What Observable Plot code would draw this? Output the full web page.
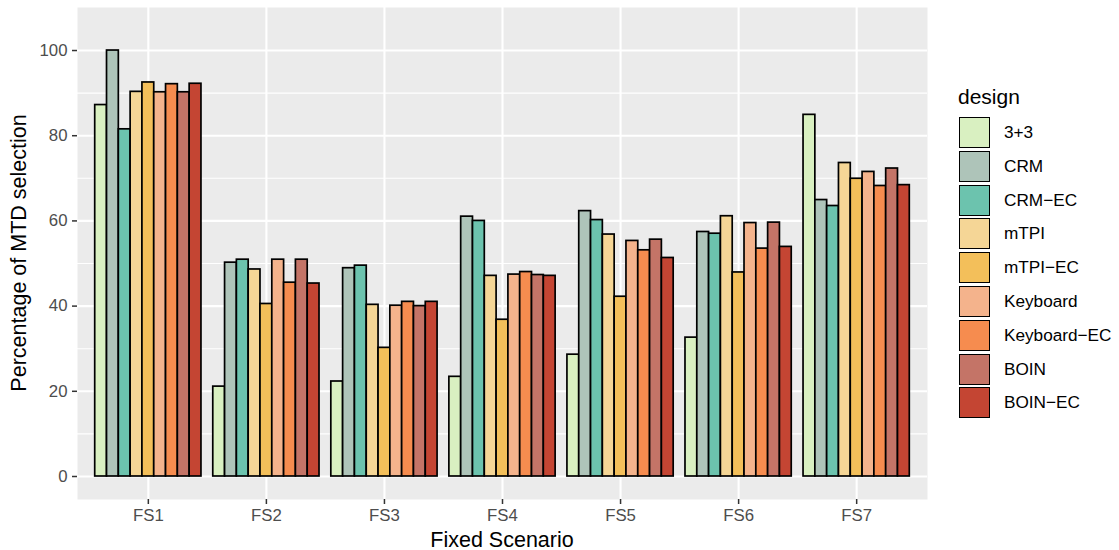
<!DOCTYPE html>
<html><head><meta charset="utf-8">
<script src="https://cdn.jsdelivr.net/npm/d3@7"></script>
<script src="https://cdn.jsdelivr.net/npm/@observablehq/plot@0.6"></script>
<style>
body{margin:0;background:#fff;font-family:"Liberation Sans",Arial,Helvetica,sans-serif;}
#wrap{position:relative;width:1119px;height:550px;overflow:hidden;}
#wrap svg{position:absolute;left:0;top:0;}
.ttl{position:absolute;font-size:21.5px;color:#000;white-space:nowrap;}
#ytitle{left:19px;top:253px;transform:translate(-50%,-50%) rotate(-90deg);}
#xtitle{left:502px;top:540px;transform:translate(-50%,-50%);}
#legend{position:absolute;left:958px;top:84px;}
#legend .lt{font-size:21px;color:#000;height:32px;line-height:26px;}
#legend .row{position:relative;height:33.8px;}
#legend .key{position:absolute;left:1px;top:1px;width:29px;height:29px;border:1.6px solid #000;}
#legend .lab{position:absolute;left:46px;top:0;line-height:32px;font-size:17.2px;color:#000;white-space:nowrap;}
</style></head><body>
<div id="wrap">
  <div id="ytitle" class="ttl">Percentage of MTD selection</div>
  <div id="xtitle" class="ttl">Fixed Scenario</div>
  <div id="legend"></div>
</div>
<script>
const scenarios = ["FS1", "FS2", "FS3", "FS4", "FS5", "FS6", "FS7"];
const designs = ["3+3", "CRM", "CRM\u2212EC", "mTPI", "mTPI\u2212EC", "Keyboard", "Keyboard\u2212EC", "BOIN", "BOIN\u2212EC"];
const colors = ["#d9f0c1", "#aec4b9", "#6cc3ae", "#f5d696", "#f3bf5a", "#f4b38c", "#f68c4f", "#c47467", "#c44533"];

// values per design, in scenario order FS1..FS7
const v33        = [87.2, 21.1, 22.3, 23.4, 28.6, 32.6, 84.9];
const vCRM       = [100.0, 50.2, 48.9, 61.0, 62.3, 57.4, 64.9];
const vCRMEC     = [81.5, 50.9, 49.5, 60.0, 60.2, 57.0, 63.5];
const vMTPI      = [90.3, 48.6, 40.3, 47.1, 56.8, 61.1, 73.6];
const vMTPIEC    = [92.5, 40.5, 30.2, 36.8, 42.2, 47.9, 69.9];
const vKeyboard  = [90.2, 50.9, 40.1, 47.4, 55.3, 59.5, 71.5];
const vKeyboardEC= [92.1, 45.5, 41.0, 48.0, 53.1, 53.5, 68.2];
const vBOIN      = [90.2, 50.9, 40.0, 47.3, 55.6, 59.6, 72.3];
const vBOINEC    = [92.2, 45.3, 41.0, 47.1, 51.3, 53.9, 68.4];
const series = [v33, vCRM, vCRMEC, vMTPI, vMTPIEC, vKeyboard, vKeyboardEC, vBOIN, vBOINEC];

const yMajor = [0, 20, 40, 60, 80, 100];
const yMinor = [10, 30, 50, 70, 90];

// dodge: group of 9 bars occupies 0.9 of a category step (as ggplot position_dodge)
const groupWidth = 0.9;
const barW = groupWidth / designs.length;
const rows = [];
scenarios.forEach((s, i) => {
  designs.forEach((d, j) => {
    const x1 = (i + 1) - groupWidth / 2 + j * barW;
    rows.push({scenario: s, design: d, value: series[j][i], x1, x2: x1 + barW});
  });
});

const plot = Plot.plot({
  width: 1119,
  height: 550,
  marginLeft: 77,
  marginRight: 192,
  marginTop: 7,
  marginBottom: 51,
  style: {fontFamily: '"Liberation Sans", Arial, Helvetica, sans-serif', fontSize: "16.8px", background: "transparent", overflow: "visible"},
  x: {domain: [0.4, 7.6], label: null},
  y: {domain: [-5.4, 110.1], label: null},
  color: {domain: designs, range: colors},
  marks: [
    Plot.frame({fill: "#ebebeb", stroke: "none"}),
    Plot.ruleY(yMinor, {stroke: "#ffffff", strokeWidth: 1.1}),
    Plot.ruleY(yMajor, {stroke: "#ffffff", strokeWidth: 2.1}),
    Plot.ruleX(d3.range(1, scenarios.length + 1), {stroke: "#ffffff", strokeWidth: 2.1}),
    Plot.rectY(rows, {x1: "x1", x2: "x2", y1: 0, y2: "value", fill: "design", stroke: "#000000", strokeWidth: 1.7}),
    Plot.axisX(d3.range(1, scenarios.length + 1), {
      tickFormat: d => scenarios[d - 1], tickSize: 5, tickPadding: 5,
      stroke: "#333333", strokeWidth: 1.5, fill: "#4d4d4d", label: null, fontSize: 16.8
    }),
    Plot.axisY(yMajor, {
      tickSize: 5, tickPadding: 5, stroke: "#333333", strokeWidth: 1.5,
      fill: "#4d4d4d", label: null, fontSize: 16.8
    })
  ]
});
document.getElementById("wrap").prepend(plot);

const legend = document.getElementById("legend");
const lt = document.createElement("div");
lt.className = "lt";
lt.textContent = "design";
legend.appendChild(lt);
designs.forEach((d, j) => {
  const row = document.createElement("div");
  row.className = "row";
  const key = document.createElement("div");
  key.className = "key";
  key.style.background = colors[j];
  const lab = document.createElement("div");
  lab.className = "lab";
  lab.textContent = d;
  row.appendChild(key);
  row.appendChild(lab);
  legend.appendChild(row);
});
</script>
</body></html>
